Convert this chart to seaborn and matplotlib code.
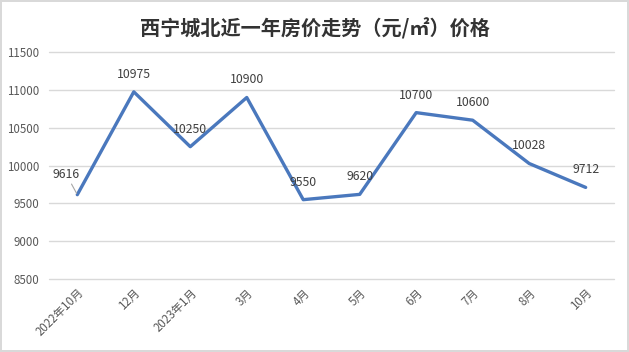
import matplotlib
matplotlib.use("Agg")
import matplotlib.pyplot as plt
import seaborn as sns
import pandas as pd

months = ["2022年10月", "12月", "2023年1月", "3月", "4月", "5月", "6月", "7月", "8月", "10月"]
prices = [9616, 10975, 10250, 10900, 9550, 9620, 10700, 10600, 10028, 9712]
yticks = [8500, 9000, 9500, 10000, 10500, 11000, 11500]

sns.set_theme(style="white")
plt.rcParams['font.family'] = ['Noto Sans CJK SC', 'DejaVu Sans']

df = pd.DataFrame({"month": months, "price": prices, "x": range(len(months))})

fig = plt.figure(figsize=(6.29, 3.52), dpi=100)
fig.patch.set_edgecolor("#d9d9d9")
fig.patch.set_linewidth(1.5)
ax = fig.add_axes([0.078, 0.207, 0.898, 0.645])

sns.lineplot(data=df, x="x", y="price", ax=ax, color="#4a78bd", linewidth=2.4)

ax.set_xlim(-0.5, len(months) - 0.5)
ax.set_ylim(8500, 11500)
ax.set_yticks(yticks)
ax.set_yticklabels([str(v) for v in yticks], fontsize=8.3, color="#595959")
ax.set_xticks(range(len(months)))
ax.set_xticklabels(months, rotation=45, ha="right", rotation_mode="anchor",
                   fontsize=8.3, color="#595959")
ax.tick_params(axis="y", length=0, pad=7)
ax.tick_params(axis="x", length=0, pad=5)
ax.grid(axis="y", color="#d9d9d9", linewidth=1)
for line in ax.get_ygridlines():
    line.set_clip_on(False)
for s in ax.spines.values():
    s.set_visible(False)
ax.set_xlabel("")
ax.set_ylabel("")

for i, v in enumerate(prices):
    if i == 0:
        ax.annotate(str(v), xy=(i, v), xytext=(-8, 10), textcoords="offset points",
                    ha="center", va="bottom", fontsize=8.8, color="#404040",
                    arrowprops=dict(arrowstyle="-", color="#a6a6a6", lw=0.8,
                                    shrinkA=0, shrinkB=1))
    else:
        ax.annotate(str(v), xy=(i, v), xytext=(0, 8), textcoords="offset points",
                    ha="center", va="bottom", fontsize=8.8, color="#404040")

fig.text(0.5, 0.918, "西宁城北近一年房价走势（元/㎡）价格", ha="center", va="center",
         fontsize=14.5, fontweight="bold", color="#333333")

fig.savefig("out.png", dpi=100)
